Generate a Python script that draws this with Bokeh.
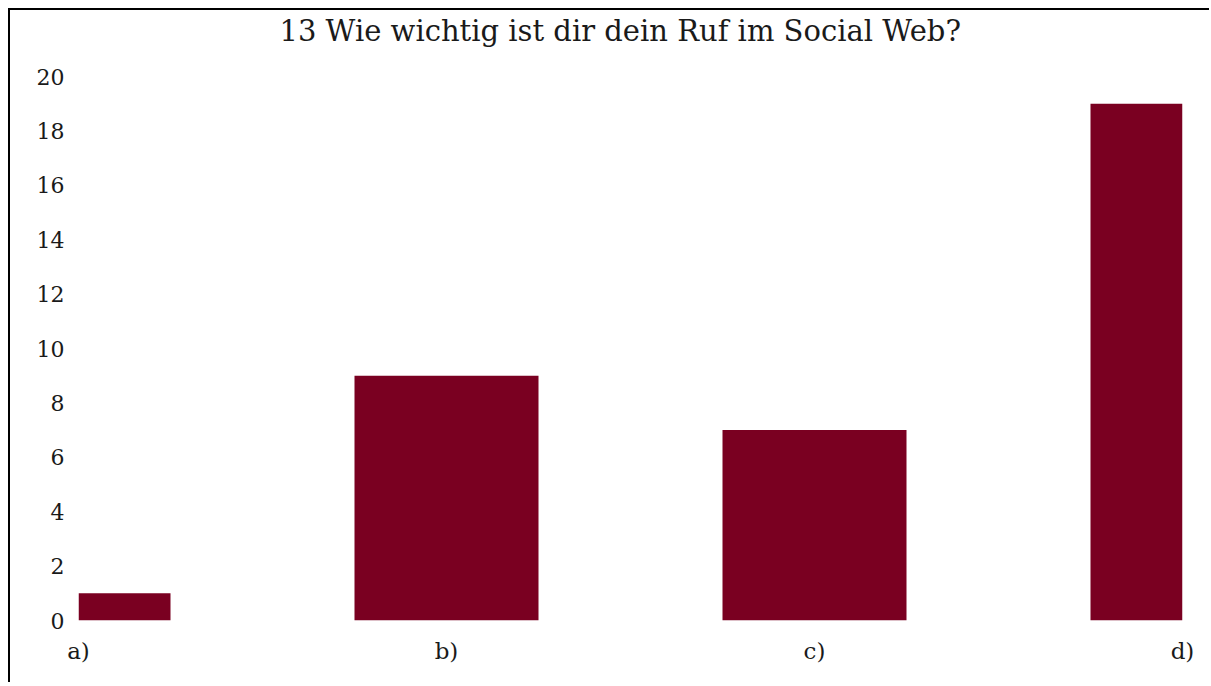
from bokeh.plotting import figure
from bokeh.models import Range1d, FixedTicker, ColumnDataSource, Title
from bokeh.embed import file_html
from bokeh.resources import INLINE

# ---- data ----
title_text = "13 Wie wichtig ist dir dein Ruf im Social Web?"
categories = ["a)", "b)", "c)", "d)"]
counts = [1, 9, 7, 19]
y_ticks = [0, 2, 4, 6, 8, 10, 12, 14, 16, 18, 20]

BAR_COLOR = "#7a0021"
FONT = "DejaVu Serif"

positions = list(range(len(categories)))
source = ColumnDataSource(data=dict(x=positions, top=counts, cat=categories))

p = figure(
    width=1201, height=674,
    x_range=Range1d(positions[0], positions[-1]),
    y_range=Range1d(y_ticks[0], y_ticks[-1]),
    output_backend="svg", toolbar_location=None,
    min_border_left=68, min_border_right=29,
    min_border_top=66, min_border_bottom=64,
)
p.styles = {"border-left": "2px solid #000000", "border-top": "2px solid #000000",
            "margin-left": "8px", "margin-top": "8px"}

p.vbar(x="x", top="top", bottom=0, width=0.5, source=source,
       fill_color=BAR_COLOR, line_color=None)

p.title.text = title_text
p.title.text_font = FONT
p.title.text_font_size = "29px"
p.title.text_font_style = "normal"
p.title.text_color = "#1a1a1a"
p.title.align = "left"
p.title.offset = 201
p.title.standoff = 0

# empty spacer between title and plot area
spacer = Title(text=" ", text_font_size="2px", standoff=25)
p.add_layout(spacer, "above")

# x axis
p.xaxis.ticker = FixedTicker(ticks=positions)
p.xaxis.major_label_overrides = {i: c for i, c in zip(positions, categories)}
p.xaxis.axis_line_color = None
p.xaxis.major_tick_line_color = None
p.xaxis.minor_tick_line_color = None
p.xaxis.major_tick_out = 0
p.xaxis.major_tick_in = 0
p.xaxis.major_label_text_font = FONT
p.xaxis.major_label_text_font_size = "23px"
p.xaxis.major_label_text_color = "#1a1a1a"
p.xaxis.major_label_standoff = 17

# y axis
p.yaxis.ticker = FixedTicker(ticks=y_ticks)
p.yaxis.axis_line_color = None
p.yaxis.major_tick_line_color = None
p.yaxis.minor_tick_line_color = None
p.yaxis.major_tick_out = 0
p.yaxis.major_tick_in = 0
p.yaxis.major_label_text_font = FONT
p.yaxis.major_label_text_font_size = "22px"
p.yaxis.major_label_text_color = "#1a1a1a"
p.yaxis.major_label_text_align = "left"
p.yaxis.major_label_standoff = 14

p.xgrid.grid_line_color = None
p.ygrid.grid_line_color = None
p.outline_line_color = None
p.background_fill_color = "white"
p.border_fill_color = "white"

open("out.html", "w").write(file_html(p, INLINE))
